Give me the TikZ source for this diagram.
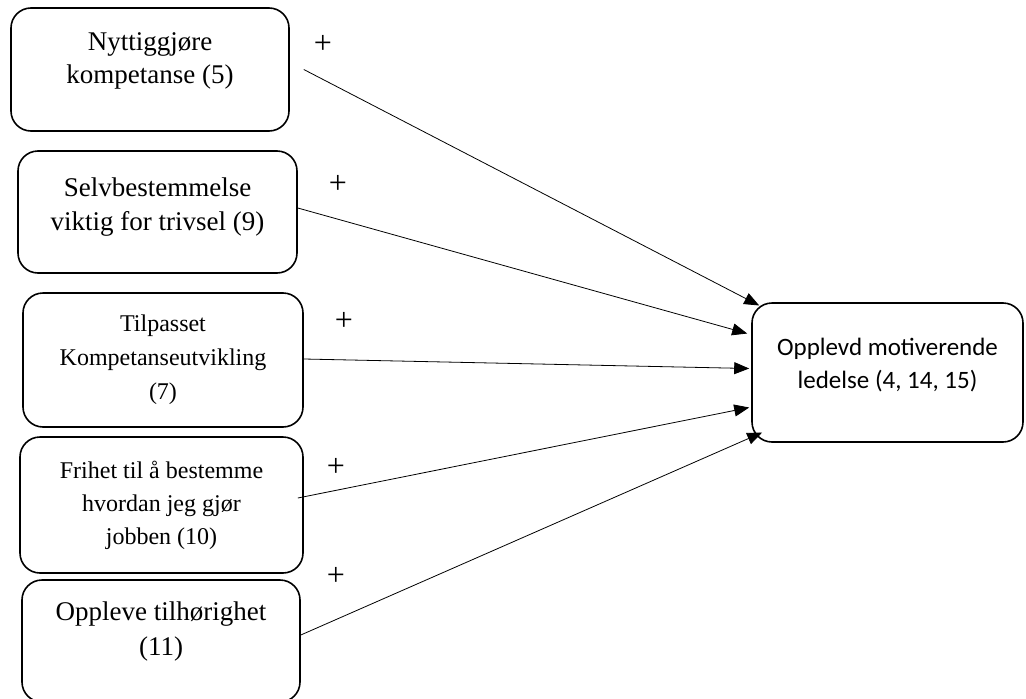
\documentclass[tikz,border=0pt]{standalone}
\usepackage{fontspec}
\setmainfont{Liberation Serif}
\newfontfamily\calibri{Carlito}
\usetikzlibrary{arrows.meta}
\newcommand\lift[1]{\rule[-#1]{0pt}{#1}}

\begin{document}
\begin{tikzpicture}[x=1pt,y=-1pt,
        box/.style={draw,line width=1.6pt,rounded corners=20pt,align=center,inner sep=0pt},
        link/.style={line width=0.8pt,-{Triangle[length=15pt,width=12pt]}},
        plus/.style={font=\fontsize{32}{34}\selectfont}]
        \useasboundingbox (0,0) rectangle (1026,699);

        \node[box,minimum width=278pt,minimum height=123pt,font=\fontsize{27}{33}\selectfont] (nytte) at (150,69.5) {Nyttiggjøre\\kompetanse (5)\lift{22pt}};
        \node[box,minimum width=279pt,minimum height=122pt,font=\fontsize{27}{34}\selectfont] (selv) at (157.5,212) {Selvbestemmelse\\viktig for trivsel (9)\lift{15pt}};
        \node[box,minimum width=280pt,minimum height=134pt,font=\fontsize{24}{34}\selectfont] (tilpass) at (163,360) {Tilpasset\\Kompetanseutvikling\\(7)};
        \node[box,minimum width=283pt,minimum height=136pt,font=\fontsize{24}{33}\selectfont] (frihet) at (161.5,505) {Frihet til å bestemme\\hvordan jeg gjør\\jobben (10)};
        \node[box,minimum width=278pt,minimum height=122pt,font=\fontsize{27}{35}\selectfont] (tilhor) at (161,641) {Oppleve tilhørighet\\(11)\lift{24pt}};

        \node[box,minimum width=271pt,minimum height=139pt,font=\calibri\fontsize{25}{33}\selectfont] (ledelse) at (887.5,372.5) {Opplevd motiverende\\ledelse (4, 14, 15)\lift{19pt}};

        \node[plus] (p1) at (323,44) {+};
        \node[plus] (p2) at (338,184) {+};
        \node[plus] (p3) at (344,321) {+};
        \node[plus] (p4) at (336,467) {+};
        \node[plus] (p5) at (336,576) {+};

        \draw[link] ([xshift=14pt]nytte.east) -- ([xshift=8pt,yshift=67pt]ledelse.west);
        \draw[link] ([yshift=4pt]selv.east) -- ([xshift=-4pt,yshift=39pt]ledelse.west);
        \draw[link] ([yshift=1pt]tilpass.east) -- ([xshift=-2pt,yshift=4pt]ledelse.west);
        \draw[link] ([xshift=-6pt,yshift=7pt]frihet.east) -- ([xshift=-2pt,yshift=-35pt]ledelse.west);
        \draw[link] ([yshift=6pt]tilhor.east) -- ([xshift=11pt,yshift=-60pt]ledelse.west);

    \end{tikzpicture}
\end{document}
